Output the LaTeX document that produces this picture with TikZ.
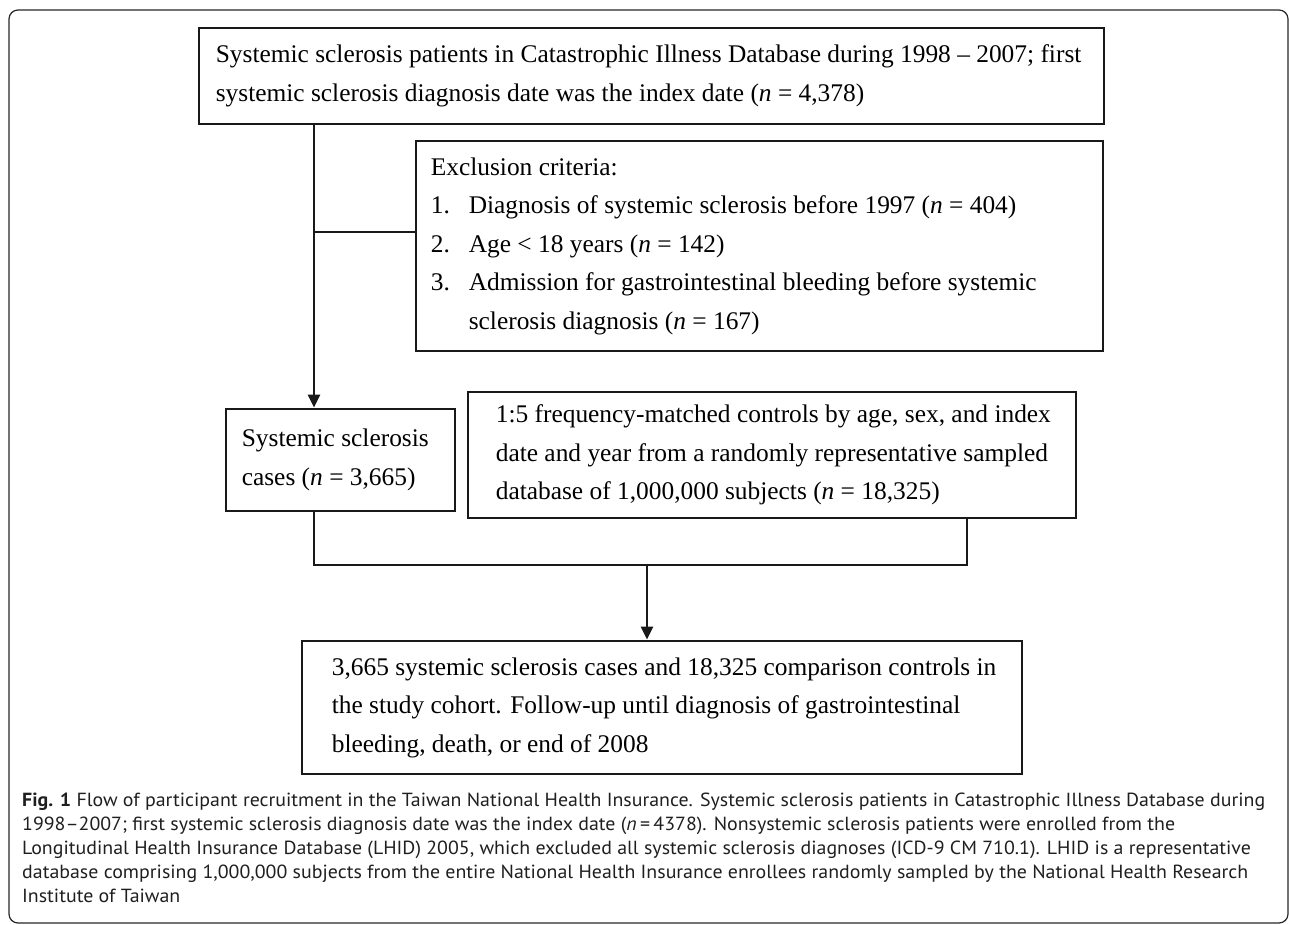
\documentclass[tikz,border=0pt]{standalone}
\usepackage{fontspec}
\usepackage{graphicx}
\setmainfont{Liberation Serif}
\newfontfamily\capfont{PT Sans}
\usetikzlibrary{arrows.meta}
\newsavebox\capbox
\newdimen\capw
\newcommand\capsize{\fontsize{19}{24.2}\selectfont}
\begin{document}
\sbox\capbox{\capfont\capsize\textbf{Fig. 1} Flow of participant recruitment in the Taiwan National Health Insurance. Systemic sclerosis patients in Catastrophic Illness Database during}%
\global\capw=\wd\capbox
\pgfmathsetmacro\capscale{1243/\capw}%
\begin{tikzpicture}[x=1pt,y=-1pt,
  box/.style={draw=black!90, line width=2.8pt, inner sep=0pt},
  txt/.style={anchor=west, align=left, inner sep=0pt, font=\fontsize{25.4}{38.5}\selectfont},
  conn/.style={draw=black!90, line width=2.8pt},
  arr/.style={conn, -{Triangle[length=13pt,width=12pt]}}]
\useasboundingbox (0,0) rectangle (1290,925);
\draw[line width=1.2pt, rounded corners=9pt, black!85] (9,10) rectangle (1288,923);

% boxes
\node[box, minimum width=905pt, minimum height=96pt] (b1) at (651.5,76) {};
\node[box, minimum width=687pt, minimum height=210pt] (b2) at (759.5,246) {};
\node[box, minimum width=229pt, minimum height=102pt] (b3) at (340.5,460) {};
\node[box, minimum width=608pt, minimum height=126pt] (b4) at (772,455) {};
\node[box, minimum width=720pt, minimum height=133pt] (b5) at (662,707.5) {};

% texts
\node[txt] (t1) at ([xshift=18pt]b1.west) {Systemic sclerosis patients in Catastrophic Illness Database during 1998 – 2007; first\\systemic sclerosis diagnosis date was the index date (\textit{n} = 4,378)};
\node[txt] (t2) at ([xshift=16pt]b2.west) {Exclusion criteria:\\
\makebox[38pt][l]{1.}Diagnosis of systemic sclerosis before 1997 (\textit{n} = 404)\\
\makebox[38pt][l]{2.}Age < 18 years (\textit{n} = 142)\\
\makebox[38pt][l]{3.}Admission for gastrointestinal bleeding before systemic\\
\hspace*{38pt}sclerosis diagnosis (\textit{n} = 167)};
\node[txt] (t3) at ([xshift=17pt]b3.west) {Systemic sclerosis\\cases (\textit{n} = 3,665)};
\node[txt] (t4) at ([xshift=29pt]b4.west) {1:5 frequency-matched controls by age, sex, and index\\date and year from a randomly representative sampled\\database of 1,000,000 subjects (\textit{n} = 18,325)};
\node[txt] (t5) at ([xshift=31pt]b5.west) {3,665 systemic sclerosis cases and 18,325 comparison controls in\\the study cohort. Follow-up until diagnosis of gastrointestinal\\bleeding, death, or end of 2008};

% connectors
\coordinate (k1) at (314,232);
\coordinate (k2) at (647,565);
\coordinate (k3) at (967,565);
\draw[conn] (k1) -- (k1 -| b2.west);
\draw[arr] (k1 |- b1.south) -- (k1 |- b3.north);
\draw[conn] (k1 |- b3.south) |- (k3) -- (k3 |- b4.south);
\draw[arr] (k2) -- (k2 |- b5.north);

% caption
\node[anchor=north west, inner sep=0pt, text=black!88] (cap) at (22,789) {\scalebox{\capscale}[1]{\capfont\capsize\begin{tabular}{@{}l@{}}
\textbf{Fig. 1} Flow of participant recruitment in the Taiwan National Health Insurance. Systemic sclerosis patients in Catastrophic Illness Database during\\
1998–2007; first systemic sclerosis diagnosis date was the index date (\textit{n}\,=\,4378). Nonsystemic sclerosis patients were enrolled from the\\
Longitudinal Health Insurance Database (LHID) 2005, which excluded all systemic sclerosis diagnoses (ICD-9 CM 710.1). LHID is a representative\\
database comprising 1,000,000 subjects from the entire National Health Insurance enrollees randomly sampled by the National Health Research\\
Institute of Taiwan
\end{tabular}}};
\end{tikzpicture}
\end{document}
